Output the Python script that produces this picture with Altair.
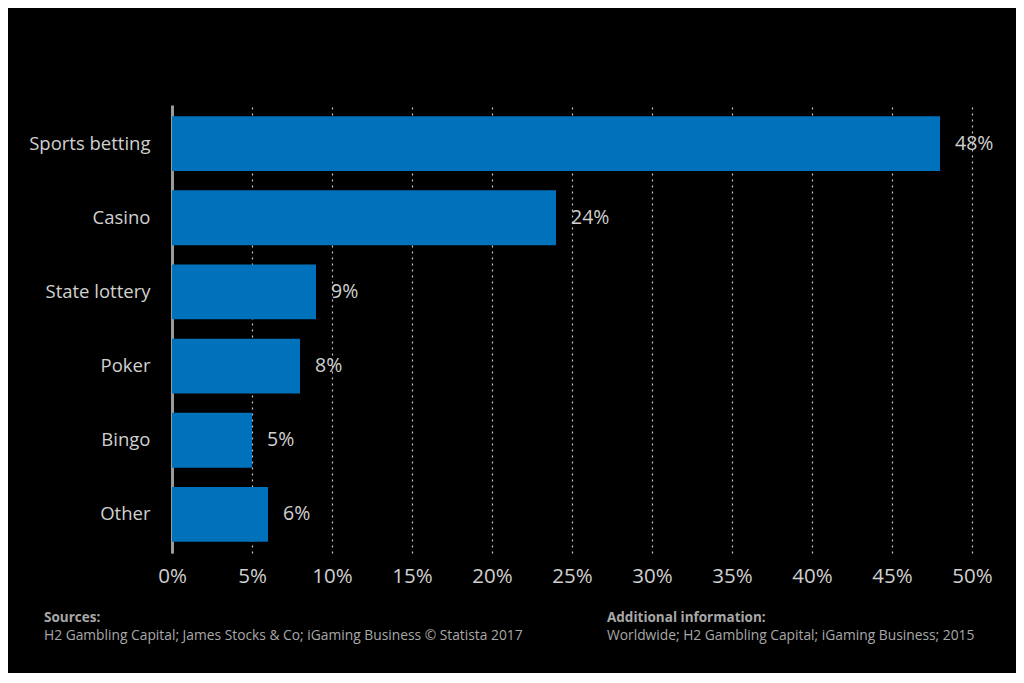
import altair as alt
import pandas as pd

categories = ["Sports betting", "Casino", "State lottery", "Poker", "Bingo", "Other"]
shares = [48, 24, 9, 8, 5, 6]
x_ticks = [0, 5, 10, 15, 20, 25, 30, 35, 40, 45, 50]

df = pd.DataFrame({"category": categories, "share": shares})
df["label"] = df["share"].astype(str) + "%"

FONT = "Open Sans"

base = alt.Chart(df).encode(
    y=alt.Y(
        "category:N",
        sort=categories,
        title=None,
        scale=alt.Scale(paddingInner=0.26, paddingOuter=0.15),
        axis=alt.Axis(
            domain=True, domainColor="#9a9a9a", domainWidth=3,
            ticks=False, labelPadding=22, labelFontSize=18.5,
            labelColor="#d0d0d0", labelFont=FONT, grid=False,
        ),
    ),
    x=alt.X(
        "share:Q",
        title=None,
        scale=alt.Scale(domain=[0, 50], nice=False),
        axis=alt.Axis(
            values=x_ticks, labelExpr="datum.value + '%'",
            domain=False, ticks=False, labelPadding=13, labelFlush=False,
            labelFontSize=20.5, labelColor="#d0d0d0", labelFont=FONT,
            grid=True, gridColor="#c8c8c8", gridDash=[2, 4], gridWidth=1.2,
        ),
    ),
)

bars = base.mark_bar(color="#0071BB")
labels = base.mark_text(
    align="left", baseline="middle", dx=15, fontSize=19.5,
    color="#d0d0d0", font=FONT,
).encode(text="label:N")

heads = pd.DataFrame({
    "t": ["Sources:", "Additional information:"],
    "px": [-128, 435],
    "py": [513, 513],
})
bodies = pd.DataFrame({
    "t": ["H2 Gambling Capital; James Stocks & Co; iGaming Business © Statista 2017",
          "Worldwide; H2 Gambling Capital; iGaming Business; 2015"],
    "px": [-128, 435],
    "py": [531, 531],
})

head_layer = alt.Chart(heads).mark_text(
    align="left", baseline="middle", fontSize=13.5, color="#a8a8a8",
    font=FONT, fontWeight="bold",
).encode(text="t:N", x=alt.X("px:Q", scale=None), y=alt.Y("py:Q", scale=None))

body_layer = alt.Chart(bodies).mark_text(
    align="left", baseline="middle", fontSize=13.8, color="#a8a8a8", font=FONT,
).encode(text="t:N", x=alt.X("px:Q", scale=None), y=alt.Y("py:Q", scale=None))

chart = alt.layer(bars, labels, head_layer, body_layer).properties(
    width=800, height=448,
    background="black",
    autosize=alt.AutoSizeParams(type="none"),
    padding={"left": 164, "top": 97, "right": 44, "bottom": 120},
).configure_view(stroke=None)

chart.save("out.html", embed_options={"renderer": "svg", "actions": False})
